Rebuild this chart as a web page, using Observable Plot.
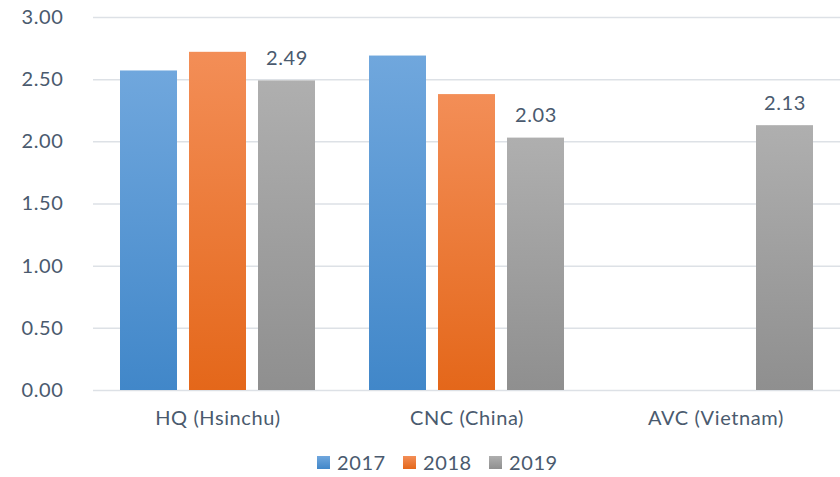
<!DOCTYPE html>
<html>
<head>
<meta charset="utf-8">
<script src="https://cdn.jsdelivr.net/npm/d3@7"></script>
<script src="https://cdn.jsdelivr.net/npm/@observablehq/plot@0.6"></script>
<style>
  html, body { margin: 0; padding: 0; background: #fff; }
  #wrap { width: 840px; font-family: Lato, "Open Sans", sans-serif; color: #4a5a6e; }
  #legend { display: flex; margin-left: 317px; padding-top: 10px; font-size: 20px; letter-spacing: 0.6px; }
  .item { display: flex; align-items: center; margin-right: 0; width: 86px; }
  .sw { width: 13px; height: 13px; margin-right: 7px; }
</style>
</head>
<body>
<div id="wrap"></div>
<script>
const sites = ["HQ (Hsinchu)", "CNC (China)", "AVC (Vietnam)"];
const years = ["2017", "2018", "2019"];
const v2017 = [2.57, 2.69, null];
const v2018 = [2.72, 2.38, null];
const v2019 = [2.49, 2.03, 2.13];
const yTicks = [0, 0.5, 1, 1.5, 2, 2.5, 3];
const topColors = ["#70a7dd", "#f38e57", "#afafaf"];
const bottomColors = ["#4187c9", "#e4671a", "#8f8f8f"];

const series = [v2017, v2018, v2019];
const data = [];
sites.forEach((s, i) => years.forEach((y, j) => {
  const v = series[j][i];
  if (v != null) data.push({site: s, year: y, value: v});
}));

const chart = Plot.plot({
  width: 840,
  height: 440,
  marginLeft: 93,
  marginRight: 0,
  marginTop: 17,
  marginBottom: 50,
  style: {fontFamily: "Lato, 'Open Sans', sans-serif", fontSize: "20px", color: "#4a5a6e", letterSpacing: "0.6px", background: "#fff"},
  fx: {domain: sites, padding: 0, axis: "bottom", tickSize: 0, tickPadding: 20, label: null},
  x: {domain: years, paddingInner: 12/69, paddingOuter: 0.391, axis: null},
  y: {domain: [0, 3], ticks: yTicks, tickFormat: d3.format(".2f"), tickSize: 0, tickPadding: 30, label: null},
  color: {domain: years, range: years.map(y => `url(#g${y})`)},
  marks: [
    Plot.gridY(yTicks, {stroke: "#dde1e6", strokeWidth: 1.5, strokeOpacity: 1}),
    Plot.barY(data, {fx: "site", x: "year", y: "value", fill: "year"}),
    Plot.text(data.filter(d => d.year === "2019"), {fx: "site", x: "year", y: "value", text: d => d.value.toFixed(2), lineAnchor: "bottom", dy: -16, fill: "#4a5a6e", fontSize: 20})
  ]
});

const ns = "http://www.w3.org/2000/svg";
const defs = document.createElementNS(ns, "defs");
years.forEach((y, j) => {
  const g = document.createElementNS(ns, "linearGradient");
  g.setAttribute("id", "g" + y);
  g.setAttribute("x1", "0"); g.setAttribute("y1", "0");
  g.setAttribute("x2", "0"); g.setAttribute("y2", "1");
  [[0, topColors[j]], [1, bottomColors[j]]].forEach(([o, c]) => {
    const st = document.createElementNS(ns, "stop");
    st.setAttribute("offset", o);
    st.setAttribute("stop-color", c);
    g.appendChild(st);
  });
  defs.appendChild(g);
});
chart.insertBefore(defs, chart.firstChild);

const wrap = document.getElementById("wrap");
wrap.appendChild(chart);
const legend = document.createElement("div");
legend.id = "legend";
years.forEach((y, j) => {
  const it = document.createElement("div");
  it.className = "item";
  const sw = document.createElement("div");
  sw.className = "sw";
  sw.style.background = `linear-gradient(${topColors[j]}, ${bottomColors[j]})`;
  const t = document.createElement("span");
  t.textContent = y;
  it.appendChild(sw); it.appendChild(t);
  legend.appendChild(it);
});
wrap.appendChild(legend);
</script>
</body>
</html>
